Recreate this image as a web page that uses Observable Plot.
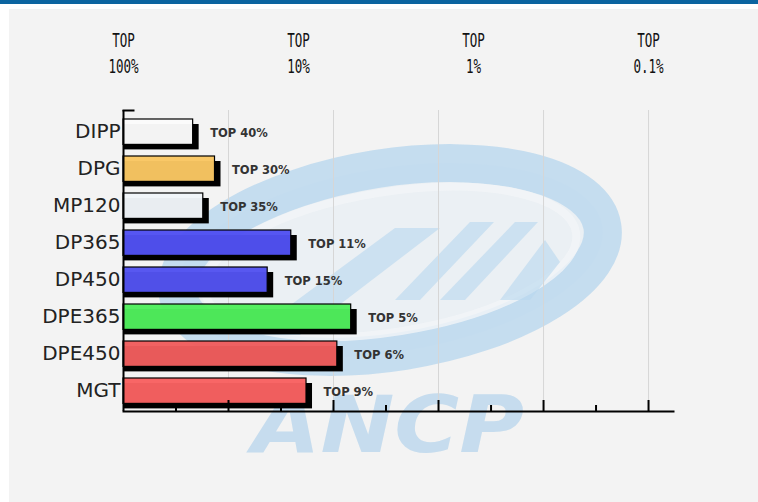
<!DOCTYPE html>
<html><head><meta charset="utf-8">
<script src="https://cdn.jsdelivr.net/npm/d3@7"></script>
<script src="https://cdn.jsdelivr.net/npm/@observablehq/plot@0.6"></script>
<style>
html,body{margin:0;padding:0;background:#fff;}
#wrap{position:relative;width:758px;height:502px;overflow:hidden;}
#band{position:absolute;left:0;top:0;width:758px;height:4px;background:#0b64a0;}
#panel{position:absolute;left:9px;top:9px;width:749px;height:493px;background:#f3f3f3;}
#chart{position:absolute;left:0;top:0;}
</style></head><body>
<div id="wrap"><div id="band"></div><div id="panel"></div><div id="chart"></div></div>
<script>
// ---- data ----
const categories = ["DIPP","DPG","MP120","DP365","DP450","DPE365","DPE450","MGT"];
const topPercent = [40,30,35,11,15,5,6,9];
const barColors = ["#fbfbfb","#f9c662","#f1f5f9","#5151f2","#5353f0","#4fee5c","#f05d5d","#f86161"];
const axisTicks = [100,10,1,0.1];
const axisTickLabels = ["TOP\n100%","TOP\n10%","TOP\n1%","TOP\n0.1%"];
const gridValues = [25.12,6.31,1.585,0.398,0.1];
const minorTickValues = [50.12,12.59,3.162,0.794,0.1995];
const xDomain = [100, 0.072];

const rows = categories.map((c,i)=>({cat:c, pct:topPercent[i], color:barColors[i], label:`TOP ${topPercent[i]}%`}));

function watermark() {
  const g = d3.create("svg:g").attr("class","watermark");
  const t = g.append("g").attr("transform","rotate(-9 390 260)");
  t.append("ellipse").attr("cx",390).attr("cy",260).attr("rx",215).attr("ry",92)
    .attr("fill","#e2eef6").attr("opacity",0.45);
  t.append("ellipse").attr("cx",390).attr("cy",260).attr("rx",215).attr("ry",92)
    .attr("fill","none").attr("stroke","#b9d7ed").attr("stroke-width",38).attr("opacity",0.8);
  t.append("ellipse").attr("cx",390).attr("cy",262).attr("rx",188).attr("ry",70)
    .attr("fill","none").attr("stroke","#f2f5f8").attr("stroke-width",8).attr("opacity",0.8);
  const strokes = [
    [[250,335],[395,228],[440,228],[300,335]],
    [[395,300],[470,222],[494,222],[420,300]],
    [[440,300],[515,222],[538,222],[465,300]],
    [[500,300],[545,240],[560,262],[530,300]]
  ];
  strokes.forEach(p=>{
    g.append("polygon").attr("points",p.map(q=>q.join(",")).join(" "))
      .attr("fill","#b8d7ee").attr("opacity",0.6);
  });
  g.append("text").attr("x",252).attr("y",452).text("ANCP")
    .attr("text-anchor","start")
    .attr("font-family","DejaVu Sans").attr("font-weight","bold").attr("font-style","italic")
    .attr("font-size",78).attr("textLength",272).attr("lengthAdjust","spacingAndGlyphs")
    .attr("fill","#b3d3ec").attr("opacity",0.7);
  return g.node();
}

const plot = Plot.plot({
  width: 758,
  height: 502,
  marginLeft: 123,
  marginRight: 85,
  marginTop: 110,
  marginBottom: 91,
  style: {background: "transparent", fontFamily: "DejaVu Sans"},
  x: {type: "log", domain: xDomain, axis: null},
  y: {type: "band", domain: categories, padding: 0, axis: null},
  color: {type: "identity"},
  marks: [
    watermark,
    Plot.ruleX(gridValues, {stroke: "#d6d6d6", strokeWidth: 1}),
    // shadows
    Plot.barX(rows, {x1: 100, x2: "pct", y: "cat", fill: "#000", insetTop: 11, insetBottom: 0.6, insetRight: -6}),
    // faces
    Plot.barX(rows, {x1: 100, x2: "pct", y: "cat", fill: "color", fillOpacity: 0.97, stroke: "#000", strokeWidth: 1.2, insetTop: 6, insetBottom: 5.6}),
    Plot.text(rows, {x: "pct", y: "cat", text: "label", dx: 17, dy: 1, textAnchor: "start",
      fontSize: 11.5, fontWeight: "bold", fontFamily: "DejaVu Sans", fill: "#333"}),
    // axes lines
    Plot.ruleX([100], {stroke: "#000", strokeWidth: 2}),
    Plot.frame({anchor: "bottom", stroke: "#000", strokeWidth: 2}),
    Plot.frame({anchor: "top", stroke: "#000", strokeWidth: 2, insetRight: 540}),
    Plot.ruleX(gridValues, {stroke: "#000", strokeWidth: 2, insetTop: 290}),
    Plot.ruleX(minorTickValues, {stroke: "#000", strokeWidth: 2, insetTop: 295}),
    Plot.axisY({tickSize: 0, tickPadding: 3, fontSize: 20, fill: "#222", color: "#222", label: null, fontFamily: "DejaVu Sans"}),
    Plot.text(axisTicks, {x: d => d, text: (d, i) => axisTickLabels[i], frameAnchor: "top", dy: -59,
      lineAnchor: "middle", lineHeight: 1.4, fontSize: 19, fontFamily: "DejaVu Sans Mono", fill: "#111"})
  ]
});
document.getElementById("chart").appendChild(plot);
// condense the monospace top labels (multi-line texts beginning with TOP)
d3.select(plot).selectAll("text").each(function(){
  const spans = this.querySelectorAll("tspan");
  if (spans.length === 2 && spans[0].textContent === "TOP") {
    const tr = this.getAttribute("transform");
    if (tr) {
      this.setAttribute("transform", tr + " scale(0.66,1)");
    } else {
      const x = +(this.getAttribute("x") || 0);
      this.setAttribute("transform", `translate(${x},0) scale(0.66,1) translate(${-x},0)`);
    }
  }
});
</script>
</body></html>
